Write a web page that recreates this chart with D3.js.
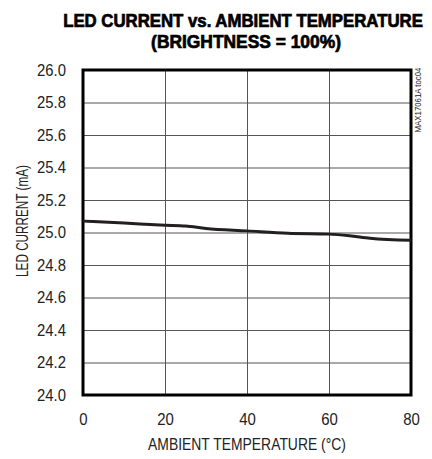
<!DOCTYPE html>
<html><head><meta charset="utf-8">
<script src="https://cdn.jsdelivr.net/npm/d3@7"></script>
<style>body{margin:0;background:#fff}svg{display:block}</style>
</head><body>
<script>
const temps = [0, 10, 20, 25, 30, 40, 50, 60, 65, 70, 80];
const currents = [25.07, 25.058, 25.045, 25.04, 25.025, 25.01, 24.995, 24.99, 24.98, 24.965, 24.952];
const xTicks = [0, 20, 40, 60, 80];
const yTicks = [24.0, 24.2, 24.4, 24.6, 24.8, 25.0, 25.2, 25.4, 25.6, 25.8, 26.0];
const titleLines = ["LED CURRENT vs. AMBIENT TEMPERATURE", "(BRIGHTNESS = 100%)"];
const xLabel = "AMBIENT TEMPERATURE (°C)";
const yLabel = "LED CURRENT (mA)";
const watermark = "MAX17061A toc04";

const W = 432, H = 459;
const m = {l: 83, r: 411, t: 70, b: 395};
const font = "'Liberation Sans', Arial, sans-serif";
const svg = d3.select("body").append("svg").attr("width", W).attr("height", H);
const x = d3.scaleLinear().domain([0, 80]).range([m.l, m.r]);
const y = d3.scaleLinear().domain([24, 26]).range([m.b, m.t]);

// place centred text squeezed horizontally to a target width
function fitText(txt, cx, by, width, size, opts = {}) {
  const t = svg.append("text").attr("x", 0).attr("y", 0).attr("text-anchor", "middle")
    .attr("font-family", font).attr("font-size", size).attr("fill", opts.fill || "#222")
    .attr("font-weight", opts.bold ? "bold" : "normal").text(txt);
  if (opts.stroke) t.attr("stroke", opts.fill || "#000").attr("stroke-width", opts.stroke);
  const w = t.node().getComputedTextLength();
  const k = width / w;
  t.attr("transform", `translate(${cx},${by})${opts.rotate ? " rotate(-90)" : ""} scale(${k},1)`);
  return t;
}

// title
const titleGeom = [{cx: 243, y: 27, len: 360}, {cx: 246, y: 47.5, len: 190}];
titleLines.forEach((t, i) => {
  fitText(t, titleGeom[i].cx, titleGeom[i].y, titleGeom[i].len, 18, {bold: true, fill: "#000", stroke: 0.7});
});

// grid
const grid = svg.append("g");
grid.append("g").attr("transform", `translate(0,${m.b})`)
  .call(d3.axisBottom(x).tickValues(xTicks).tickSize(-(m.b - m.t)).tickFormat(""))
  .call(g => g.select(".domain").remove())
  .call(g => g.selectAll("line").attr("stroke", "#555").attr("stroke-width", 1));
grid.append("g").attr("transform", `translate(${m.l},0)`)
  .call(d3.axisLeft(y).tickValues(yTicks).tickSize(-(m.r - m.l)).tickFormat(""))
  .call(g => g.select(".domain").remove())
  .call(g => g.selectAll("line").attr("stroke", "#555").attr("stroke-width", 1));

// tick labels
const xa = svg.append("g").attr("transform", `translate(0,${m.b})`)
  .call(d3.axisBottom(x).tickValues(xTicks).tickSize(0).tickPadding(18).tickFormat(d3.format("d")));
xa.select(".domain").remove();
xa.selectAll("text").attr("font-family", font).attr("font-size", 17).attr("fill", "#222")
  .attr("transform", "scale(0.88,1)").attr("x", 0);
const ya = svg.append("g").attr("transform", `translate(${m.l},0)`)
  .call(d3.axisLeft(y).tickValues(yTicks).tickSize(0).tickPadding(17).tickFormat(d3.format(".1f")));
ya.select(".domain").remove();
ya.selectAll("text").attr("font-family", font).attr("font-size", 16.5).attr("fill", "#222")
  .attr("transform", "scale(0.9,1)").attr("x", -17 / 0.9);

// frame
svg.append("rect").attr("x", m.l).attr("y", m.t).attr("width", m.r - m.l).attr("height", m.b - m.t)
  .attr("fill", "none").attr("stroke", "#000").attr("stroke-width", 3);

// line
svg.append("path").datum(temps.map((t, i) => [t, currents[i]]))
  .attr("d", d3.line().x(d => x(d[0])).y(d => y(d[1])).curve(d3.curveMonotoneX))
  .attr("fill", "none").attr("stroke", "#231f20").attr("stroke-width", 3);

// axis titles
fitText(xLabel, 247, 450, 198, 16.5);
fitText(yLabel, 28, 221, 112, 16.5, {rotate: true});

// watermark
fitText(watermark, 421, 100, 65, 8.5, {rotate: true});
</script>
</body></html>
